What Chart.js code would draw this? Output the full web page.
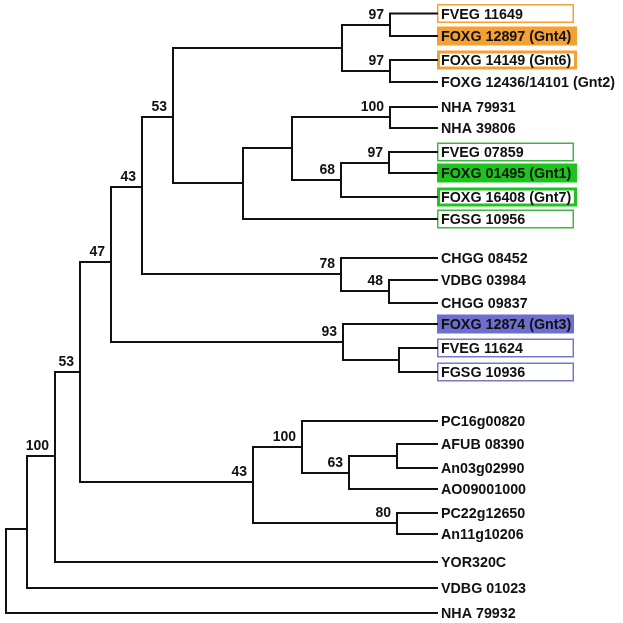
<!DOCTYPE html>
<html>
<head>
<meta charset="utf-8">
<script src="https://cdn.jsdelivr.net/npm/chart.js@4/dist/chart.umd.min.js"></script>
<style>
  html, body { margin: 0; padding: 0; background: #fff; }
  #wrap { width: 623px; height: 623px; position: relative; }
</style>
</head>
<body>
<div id="wrap"><canvas id="tree"></canvas></div>
<script>
/* ── tree data ──────────────────────────────────────────────── */

// tips, top to bottom
const leafNames = [
    'FVEG 11649', 'FOXG 12897 (Gnt4)', 'FOXG 14149 (Gnt6)', 'FOXG 12436/14101 (Gnt2)',
    'NHA 79931', 'NHA 39806', 'FVEG 07859', 'FOXG 01495 (Gnt1)', 'FOXG 16408 (Gnt7)',
    'FGSG 10956', 'CHGG 08452', 'VDBG 03984', 'CHGG 09837', 'FOXG 12874 (Gnt3)',
    'FVEG 11624', 'FGSG 10936', 'PC16g00820', 'AFUB 08390', 'An03g02990',
    'AO09001000', 'PC22g12650', 'An11g10206', 'YOR320C', 'VDBG 01023', 'NHA 79932'
];
const leafRow = [13.5, 36, 60, 82, 107, 128, 152, 173, 197, 219, 258, 280, 303,
                 324, 348, 372, 421, 444, 468, 489, 513, 534, 562, 588, 613];
const tipDepth = 437;

// internal nodes: depth, row, children (numbers = tips, strings = nodes)
const nodeIds      = ['n1','n2','n3','n4','n5','n6','n7','n8','n9','n10','n11','n12',
                      'n13','n14','n15','n16','n17','n18','n19','n20','n21','n22','n23','root'];
const nodeDepth    = [390, 390, 342, 390, 389, 341, 292, 243, 173, 389, 341, 142,
                      399, 343, 111, 397, 349, 302, 397, 253, 80, 55, 27, 6];
const nodeRow      = [25, 71, 48, 117, 163, 180, 148, 183, 117, 291, 274, 187,
                      360, 342, 262, 456, 473, 447, 523, 482, 372, 456, 529, 570];
const nodeChildren = [[0,1], [2,3], ['n1','n2'], [4,5], [6,7], ['n5',8], ['n4','n6'], ['n7',9],
                      ['n3','n8'], [11,12], [10,'n10'], ['n9','n11'], [14,15], [13,'n13'],
                      ['n12','n14'], [17,18], ['n16',19], [16,'n17'], [20,21], ['n18','n19'],
                      ['n15','n20'], ['n21',22], ['n22',23], ['n23',24]];
const bootstrap    = [97, 97, null, 100, 97, 68, null, null, 53, 48, 78, 43,
                      null, 93, 47, null, 63, 100, 80, 43, 53, 100, null, null];

/* ── highlight boxes (style only) ───────────────────────────── */
const ORANGE = '#f5a033', GREEN = '#1ec41e', GREEN_LINE = '#3dba3d', BLUE = '#6e6ed0', BLUE_LINE = '#7878c8';
const highlight = {
    0:  { stroke: ORANGE, lw: 1.5, right: 574 },
    1:  { fill: ORANGE, right: 577 },
    2:  { stroke: ORANGE, lw: 3, right: 577 },
    6:  { stroke: GREEN_LINE, lw: 1.5, right: 574 },
    7:  { fill: GREEN, right: 577 },
    8:  { stroke: GREEN, lw: 3, right: 577 },
    9:  { stroke: GREEN_LINE, lw: 1.5, right: 574 },
    13: { fill: BLUE, right: 574 },
    14: { stroke: BLUE_LINE, lw: 1.5, right: 574 },
    15: { stroke: BLUE_LINE, lw: 1.5, right: 574 }
};

function pos(ref) {
    if (typeof ref === 'number') return { x: tipDepth, y: leafRow[ref] };
    const i = nodeIds.indexOf(ref);
    return { x: nodeDepth[i], y: nodeRow[i] };
}

// elbow segments, separated by nulls
const branchPts = [];
nodeIds.forEach((id, i) => {
    const kids = nodeChildren[i].map(pos);
    const ys = kids.map(k => k.y);
    branchPts.push({ x: nodeDepth[i], y: Math.min(...ys) }, { x: nodeDepth[i], y: Math.max(...ys) }, { x: null, y: null });
    kids.forEach(k => branchPts.push({ x: nodeDepth[i], y: k.y }, { x: k.x, y: k.y }, { x: null, y: null }));
});

const labelsPlugin = {
    id: 'treeLabels',
    beforeDatasetsDraw(chart) {
        const { ctx, scales: { x, y } } = chart;
        ctx.save();
        Object.keys(highlight).forEach(k => {
            const h = highlight[k];
            const cy = y.getPixelForValue(leafRow[k]);
            const x0 = x.getPixelForValue(tipDepth), x1 = x.getPixelForValue(h.right);
            if (h.fill) {
                ctx.fillStyle = h.fill;
                ctx.fillRect(x0, cy - 9.5, x1 - x0, 19);
            } else {
                ctx.strokeStyle = h.stroke; ctx.lineWidth = h.lw;
                ctx.strokeRect(x0 + h.lw / 2, cy - 9.5 + h.lw / 2, x1 - x0 - h.lw, 19 - h.lw);
            }
        });
        ctx.restore();
    },
    afterDatasetsDraw(chart) {
        const { ctx, scales: { x, y } } = chart;
        ctx.save();
        ctx.fillStyle = '#111';
        ctx.font = 'bold 14.3px "Liberation Sans", Arial, sans-serif';
        ctx.textAlign = 'left'; ctx.textBaseline = 'alphabetic';
        leafNames.forEach((name, i) => {
            ctx.fillText(name, x.getPixelForValue(tipDepth) + 4, y.getPixelForValue(leafRow[i]) + 5);
        });
        ctx.font = 'bold 14px "Liberation Sans", Arial, sans-serif';
        ctx.textAlign = 'right';
        bootstrap.forEach((b, i) => {
            if (b == null) return;
            ctx.fillText(String(b), x.getPixelForValue(nodeDepth[i]) - 6, y.getPixelForValue(nodeRow[i]) - 6);
        });
        ctx.restore();
    }
};

new Chart(document.getElementById('tree').getContext('2d'), {
    type: 'scatter',
    data: {
        datasets: [{
            label: 'branches', data: branchPts,
            showLine: true, spanGaps: false, pointRadius: 0,
            borderColor: '#111', borderWidth: 2, borderCapStyle: 'square'
        }]
    },
    options: {
        responsive: true, maintainAspectRatio: false, animation: false,
        layout: { padding: 0 },
        plugins: { legend: { display: false }, tooltip: { enabled: false } },
        scales: {
            x: { type: 'linear', min: 0, max: 623, display: false },
            y: { type: 'linear', min: 0, max: 623, reverse: true, display: false }
        }
    },
    plugins: [labelsPlugin]
});
</script>
</body>
</html>
